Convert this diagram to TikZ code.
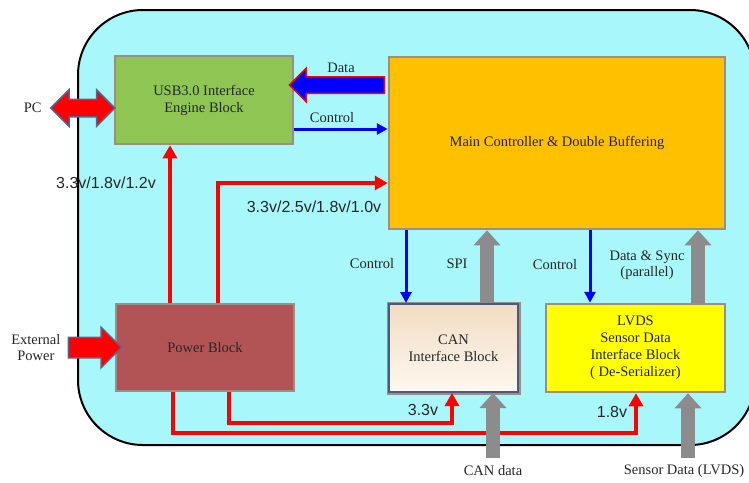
\documentclass[tikz,border=0pt]{standalone}
\usepackage{fontspec}
\setmainfont{Liberation Serif}
\newfontfamily\arialfont{Liberation Sans}
\usetikzlibrary{arrows.meta, positioning, shapes.arrows, calc}
\definecolor{boardCyan}{HTML}{A8F8FB}
\definecolor{usbGreen}{HTML}{8FC653}
\definecolor{mainOrange}{HTML}{FFC000}
\definecolor{powerRed}{HTML}{B25455}
\definecolor{canEdge}{HTML}{4A5A7C}
\definecolor{canTop}{HTML}{F3DCC3}
\definecolor{canBottom}{HTML}{FDF8F0}
\definecolor{lvdsYellow}{HTML}{FFFF00}
\definecolor{busGray}{HTML}{8C8C8C}
\definecolor{edgeSlate}{HTML}{4F6691}
\definecolor{haloGray}{HTML}{9C8E86}
\definecolor{textDark}{HTML}{262626}

\begin{document}
\begin{tikzpicture}[x=1pt, y=-1pt,
    board/.style={draw=black, line width=2pt, fill=boardCyan, rounded corners=65pt},
    block/.style={rectangle, draw=haloGray, line width=2.5pt, text=textDark,
                  font=\fontsize{14.5}{17}\selectfont, align=center, inner sep=2pt},
    lbl/.style={text=textDark, font=\fontsize{14.5}{16}\selectfont, align=center, inner sep=1pt},
    volt/.style={text=textDark, font=\arialfont\fontsize{16}{18}\selectfont, inner sep=1pt},
    fatarrow/.style={single arrow, line width=1.5pt, inner xsep=0pt},
    twoway/.style={double arrow, line width=1.5pt, inner xsep=0pt},
    ctrl/.style={draw=blue, line width=3pt, -{Triangle[length=11pt, width=11pt]}},
    pwr/.style={draw=red, line width=4pt, -{Triangle[length=13pt, width=14pt]}},
    bus/.style={draw=busGray, line width=14pt, -{Triangle[length=15pt, width=26pt]}},
  ]
    \useasboundingbox (0,0) rectangle (749,482);
    \draw[board] (78,10) rectangle (755,445);

    % blocks
    \node[block, fill=usbGreen, minimum width=178pt, minimum height=88pt] (usb) at (204,100)
      {USB3.0 Interface\\Engine Block};
    \node[block, fill=mainOrange, minimum width=336pt, minimum height=172pt] (main) at (557,143)
      {Main Controller \& Double Buffering};
    \node[block, fill=powerRed, minimum width=178pt, minimum height=87pt] (power) at (205,347.5)
      {Power Block};
    \node[block, draw=canEdge, line width=2pt, top color=canTop, bottom color=canBottom,
          preaction={draw=haloGray, line width=5pt},
          minimum width=129pt, minimum height=88pt] (can) at (453.5,348)
      {CAN\\Interface Block};
    \node[block, fill=lvdsYellow, minimum width=179pt, minimum height=88pt] (lvds) at (635.5,348)
      {LVDS\\Sensor Data\\Interface Block\\( De-Serializer)};

    % outside links
    \node[twoway, fill=red, draw=edgeSlate, inner ysep=8pt, double arrow head extend=9.5pt,
          minimum height=64pt] (pcarr) at ([xshift=-31pt, yshift=-8pt]usb.west) {};
    \node[lbl, left=7pt of pcarr] (pc) {PC};
    \node[fatarrow, fill=red, draw=edgeSlate, inner ysep=9.5pt, single arrow head extend=10pt,
          minimum height=53pt] (extarr) at ([xshift=-25pt]power.west) {};
    \node[lbl, left=6pt of extarr] (ext) {External\\Power};

    % usb <-> main
    \node[fatarrow, fill=blue, draw=red, shape border rotate=180, inner ysep=7.5pt,
          single arrow head extend=8.5pt, minimum height=95pt] (dataarr)
      at ([yshift=15pt]$(usb.east)!0.5!(usb.east -| main.west)$) {};
    \node[lbl, above=2pt of dataarr] (datalbl) {Data};
    \draw[ctrl] ([yshift=-29pt]usb.east) -- ([yshift=-29pt]usb.east -| main.west);
    \node[lbl] (ctrlusb) at (332,118) {Control};

    % supplies
    \draw[pwr] ([xshift=-35pt]power.north) -- ([xshift=-35pt]power.north |- usb.south);
    \draw[pwr] ([xshift=13pt]power.north) |- ([yshift=-40pt]main.west);
    \draw[pwr] ([xshift=24pt]power.south) -- ++(0,31) -| ([xshift=-1.5pt]can.south);
    \draw[pwr] ([xshift=-32pt]power.south) -- ++(0,41) -| ([xshift=0.5pt]lvds.south);
    \node[volt] (vusb) at (106,183) {3.3v/1.8v/1.2v};
    \node[volt] (vmain) at (314,207) {3.3v/2.5v/1.8v/1.0v};
    \node[volt] (vcan) at (423,410) {3.3v};
    \node[volt] (vlvds) at (612,412) {1.8v};

    % main <-> can / lvds
    \draw[ctrl] ([xshift=-47.5pt]can.north |- main.south) -- ([xshift=-47.5pt]can.north);
    \draw[bus] ([xshift=33.5pt]can.north) -- ([xshift=33.5pt]can.north |- main.south);
    \draw[ctrl] ([xshift=-45.5pt]lvds.north |- main.south) -- ([xshift=-45.5pt]lvds.north);
    \draw[bus] ([xshift=62.5pt]lvds.north) -- ([xshift=62.5pt]lvds.north |- main.south);
    \node[lbl] (ctrlcan) at (372,264) {Control};
    \node[lbl] (spi) at (457,264) {SPI};
    \node[lbl] (ctrllvds) at (555,265) {Control};
    \node[lbl] (sync) at (647,265) {Data \& Sync\\(parallel)};

    % inputs from below
    \coordinate (canin) at (493,458);
    \coordinate (sensin) at (688,458);
    \draw[bus] (canin) -- (canin |- can.south);
    \draw[bus] (sensin) -- (sensin |- lvds.south);
    \node[lbl] (canlbl) at (493,471) {CAN data};
    \node[lbl] (senslbl) at (684,471) {Sensor Data (LVDS)};
\end{tikzpicture}
\end{document}
